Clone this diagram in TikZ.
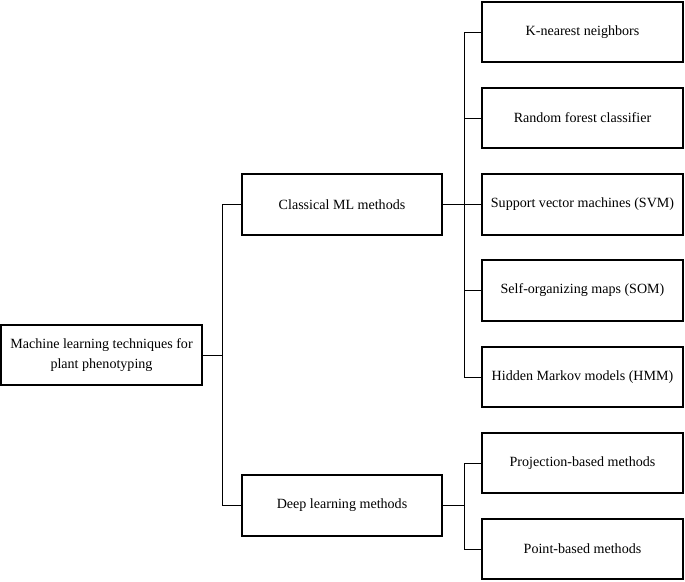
\documentclass[tikz,border=0pt]{standalone}
\usepackage{fontspec}
\setmainfont{Liberation Serif}

\begin{document}
\begin{tikzpicture}[x=0.025cm, y=-0.025cm, line width=0.7pt,
    main/.style = {draw, line width=1.4pt, rectangle, minimum width=5cm, minimum height=1.52cm, align=center, font=\fontsize{10}{14}\selectfont}]
      \useasboundingbox (0,0) rectangle (685,581);
      \node[main] (1) at (101.5,355) {Machine learning techniques for\\plant phenotyping};
      \node[main] (2) at (342,204.5) {Classical ML methods};
      \node[main] (3) at (342,505.5) {Deep learning methods};
      \node[main] (4) at (582.5,32) {K-nearest neighbors};
      \node[main] (5) at (582.5,118) {Random forest classifier};
      \node[main] (6) at (582.5,204.5) {Support vector machines (SVM)};
      \node[main] (7) at (582.5,290.5) {Self-organizing maps (SOM)};
      \node[main] (8) at (582.5,377) {Hidden Markov models (HMM)};
      \node[main] (9) at (582.5,463) {Projection-based methods};
      \node[main] (10) at (582.5,549) {Point-based methods};
      \draw
      (1.east) -- ++(20,0) |- (2.west)
      (1.east) -- ++(20,0) |- (3.west)
      (2.east) -- ++(21,0) |- (4.west)
      (2.east) -- ++(21,0) |- (5.west)
      (2.east) -- (6.west)
      (2.east) -- ++(21,0) |- (7.west)
      (2.east) -- ++(21,0) |- (8.west)
      (3.east) -- ++(21,0) |- (9.west)
      (3.east) -- ++(21,0) |- (10.west)
      ;
    \end{tikzpicture}
\end{document}
